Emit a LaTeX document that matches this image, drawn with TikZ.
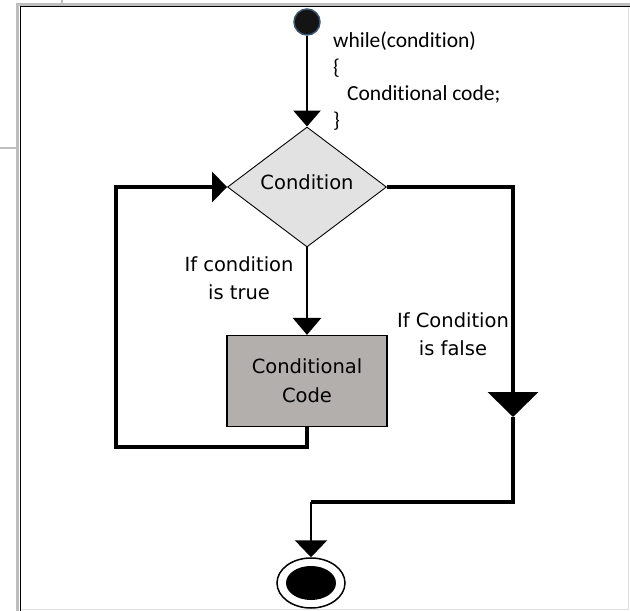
\documentclass[tikz,border=0pt]{standalone}
\usepackage{fontspec}
\setmainfont{DejaVu Sans}
\newfontfamily\codefont[Ligatures=NoCommon]{Carlito}
\usetikzlibrary{shapes.geometric,arrows.meta}

\definecolor{framegray}{RGB}{190,190,190}
\definecolor{condfill}{RGB}{226,226,226}
\definecolor{boxfill}{RGB}{178,175,173}
\definecolor{dotrim}{RGB}{58,85,112}

\tikzset{
  flowline/.style={line width=4pt},
  thinflow/.style={line width=2.8pt},
  decision/.style={diamond,draw,line width=0.9pt,fill=condfill,inner sep=0pt,text depth=9pt,
    minimum width=159pt,minimum height=120pt,font=\fontsize{19.5}{28}\selectfont},
  process/.style={rectangle,draw,line width=1.2pt,fill=boxfill,align=center,
    minimum width=160pt,minimum height=91pt,font=\fontsize{19.5}{29}\selectfont},
  labeltext/.style={align=center,inner sep=0pt,font=\fontsize{19.5}{28}\selectfont},
  startdot/.style={circle,draw=dotrim,line width=1.5pt,fill=black!92,minimum size=26pt,inner sep=0pt},
  stopring/.style={ellipse,draw,line width=1.5pt,fill=white,minimum width=68pt,minimum height=50pt,inner sep=0pt},
  stopdot/.style={ellipse,fill=black,minimum width=50pt,minimum height=34pt,inner sep=0pt}
}

\begin{document}
\begin{tikzpicture}[x=1pt,y=-1pt]
\useasboundingbox (0,0) rectangle (630,611);

% frame of the screenshot
\draw[framegray,line width=3pt] (17,611) -- (17,4) -- (630,4);
\draw[framegray,line width=2pt] (0,148) -- (16,148);
\draw[framegray,line width=2pt] (62,0) -- (62,3);
\draw[line width=1pt] (20.5,611) -- (20.5,6.5) -- (630,6.5);
\draw[black!12,line width=1pt] (21,609.5) -- (628.5,609.5) -- (628.5,7);

% nodes
\node[startdot] (start) at (307,22) {};
\node[decision] (cond) at (307,187) {Condition};
\node[process] (code) at (307,381) {Conditional\\Code};
\node[stopring] (stop) at (311,583) {};
\node[stopdot] (stopin) at (stop.center) {};

\node[anchor=north west,inner sep=0pt,align=left,
  font=\codefont\fontsize{21.5}{26.5}\selectfont] (codetext) at (333,32)
  {while(condition)\\\{\\\hspace*{14pt}Conditional code;\\\}};
\node[labeltext] (truetext) at (239,278) {If condition\\is true};
\node[labeltext] (falsetext) at (453,334) {If Condition\\is false};

\coordinate (loopbl) at (116,447);
\coordinate (loopbr) at (code.south |- loopbl);
\coordinate (falsetop) at (513,187);
\coordinate (falsemid) at (513,417);
\coordinate (falsebot) at (513,502);
\coordinate (stopcorner) at (stop.north |- falsebot);

% connectors
\draw[thinflow,-{Triangle[width=27pt,length=16pt]}] (start) -- (cond.north);
\draw[thinflow,-{Triangle[width=28pt,length=17pt]}] (cond.south) -- (code.north);
\draw[flowline,-{Triangle[width=30pt,length=15pt]}] (code.south) -- (loopbr) -- (loopbl) |- (cond.west);
\draw[flowline,-{Triangle[width=50pt,length=25pt]}] (cond.east) -- (falsetop) -- (falsemid);
\draw[flowline] (falsemid) -- (falsebot) -- (stopcorner);
\draw[thinflow,-{Triangle[width=32pt,length=17pt]}] (stopcorner) -- (stop.north);
\end{tikzpicture}
\end{document}
